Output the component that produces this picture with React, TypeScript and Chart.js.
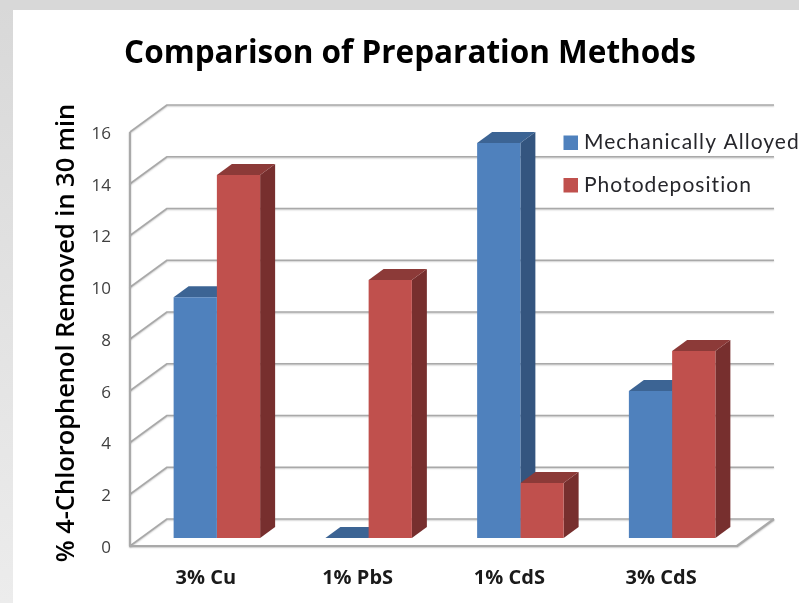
import React, { useEffect, useRef } from "react";
import { Chart, registerables } from "chart.js";

Chart.register(...registerables);

const titleText = "Comparison of Preparation Methods";
const yAxisTitle = "% 4-Chlorophenol Removed in 30 min";
const categories = ["3% Cu", "1% PbS", "1% CdS", "3% CdS"];
const mechanicallyAlloyed = [9.3, 0, 15.27, 5.68];
const photodeposition = [14.03, 9.97, 2.13, 7.23];

const FONT = "'Open Sans', sans-serif";
const LEGEND_FONT = "Lato, sans-serif";
// Oblique depth of the chart "box" and of the bars (pixels)
const wallDX = 37, wallDY = 27;
const barShiftX = 11, barShiftY = 8;
const barDX = 15, barDY = 11;
const GRID = "#a9a9a9";

const faces: Record<string, { top: string; side: string }> = {
  "#4f81bd": { top: "#3c6494", side: "#34557f" },
  "#c0504d": { top: "#8c3a38", side: "#772f2e" },
};

const box3d = {
  id: "box3d",
  beforeDraw(chart: any) {
    const { ctx, width, height } = chart;
    ctx.save();
    ctx.fillStyle = "#ffffff";
    ctx.fillRect(0, 0, width, height);
    ctx.fillStyle = "#d8d8d8";
    ctx.fillRect(0, 0, width, 10);
    const g = ctx.createLinearGradient(0, 0, 0, height);
    g.addColorStop(0, "#d8d8d8");
    g.addColorStop(1, "#ececec");
    ctx.fillStyle = g;
    ctx.fillRect(0, 10, 13, height - 10);
    ctx.restore();
  },
  beforeDatasetsDraw(chart: any) {
    const { ctx, scales, chartArea } = chart;
    const y = scales.y;
    ctx.save();
    ctx.strokeStyle = GRID;
    ctx.lineWidth = 1.6;
    ctx.lineJoin = "round";
    ctx.shadowColor = "rgba(0,0,0,0.2)";
    ctx.shadowOffsetY = 1;
    ctx.shadowBlur = 1.5;
    // back wall and side wall grid
    y.ticks.forEach((t: any) => {
      const py = y.getPixelForValue(t.value);
      ctx.beginPath();
      ctx.moveTo(chartArea.left, py);
      ctx.lineTo(chartArea.left + wallDX, py - wallDY);
      ctx.lineTo(chartArea.right + wallDX, py - wallDY);
      ctx.stroke();
    });
    // floor right edge + front edges
    const base = y.getPixelForValue(0);
    ctx.lineWidth = 2.2;
    ctx.beginPath();
    ctx.moveTo(chartArea.left, y.getPixelForValue(16));
    ctx.lineTo(chartArea.left, base);
    ctx.lineTo(chartArea.right, base);
    ctx.lineTo(chartArea.right + wallDX, base - wallDY);
    ctx.stroke();
    ctx.restore();

    // bars sit inside the box: shift the whole dataset drawing
    ctx.save();
    ctx.translate(barShiftX, -barShiftY);
    chart.data.datasets.forEach((ds: any, i: number) => {
      const f = faces[ds.backgroundColor];
      chart.getDatasetMeta(i).data.forEach((bar: any) => {
        const p = bar.getProps(["x", "y", "base", "width"], true);
        const l = p.x - p.width / 2;
        const r = p.x + p.width / 2;
        ctx.fillStyle = f.side;
        ctx.beginPath();
        ctx.moveTo(r, p.y);
        ctx.lineTo(r + barDX, p.y - barDY);
        ctx.lineTo(r + barDX, p.base - barDY);
        ctx.lineTo(r, p.base);
        ctx.closePath();
        ctx.fill();
        ctx.fillStyle = f.top;
        ctx.beginPath();
        ctx.moveTo(l, p.y);
        ctx.lineTo(l + barDX, p.y - barDY);
        ctx.lineTo(r + barDX, p.y - barDY);
        ctx.lineTo(r, p.y);
        ctx.closePath();
        ctx.fill();
      });
    });
  },
  afterDatasetsDraw(chart: any) {
    const { ctx } = chart;
    ctx.restore();

    // legend
    ctx.save();
    ctx.textBaseline = "middle";
    ctx.textAlign = "left";
    ctx.font = `400 21px ${LEGEND_FONT}`;
    (ctx as any).letterSpacing = "1.05px";
    const rows = [142.5, 185];
    chart.data.datasets.forEach((ds: any, i: number) => {
      ctx.fillStyle = ds.backgroundColor;
      ctx.fillRect(563.5, rows[i] - 7, 14.5, 14.5);
      ctx.fillStyle = "#26262b";
      ctx.fillText(ds.label, 584, rows[i]);
    });
    (ctx as any).letterSpacing = "0px";

    // y axis title
    ctx.translate(67, 333);
    ctx.rotate(-Math.PI / 2);
    ctx.textAlign = "center";
    ctx.fillStyle = "#000000";
    ctx.font = `600 25.4px ${FONT}`;
    ctx.fillText(yAxisTitle, 0, 0);
    ctx.restore();
  },
};

export default function App() {
  const ref = useRef<HTMLCanvasElement>(null);
  useEffect(() => {
    document.body.style.margin = "0";
    const chart = new Chart(ref.current!, {
      type: "bar",
      data: {
        labels: categories,
        datasets: [
          { label: "Mechanically Alloyed", data: mechanicallyAlloyed, backgroundColor: "#4f81bd", borderWidth: 0 },
          { label: "Photodeposition", data: photodeposition, backgroundColor: "#c0504d", borderWidth: 0 },
        ],
      },
      options: {
        responsive: false,
        animation: false,
        layout: { padding: { left: 83, right: 62, top: 0, bottom: 0 } },
        datasets: { bar: { categoryPercentage: 0.57, barPercentage: 1 } },
        plugins: {
          legend: { display: false },
          tooltip: { enabled: false },
          title: {
            display: true,
            text: titleText,
            color: "#000000",
            font: { family: FONT, size: 31.5, weight: "700", lineHeight: 1.2 },
            padding: { top: 35, bottom: 59.2 },
          },
        },
        scales: {
          x: {
            grid: { display: false, drawTicks: false },
            border: { display: false },
            afterFit: (s: any) => { s.height = 57; },
            ticks: {
              color: "#1a1a1a",
              padding: 20,
              maxRotation: 0,
              font: { family: FONT, size: 20, weight: "700" },
            },
          },
          y: {
            min: 0,
            max: 16,
            grid: { display: false, drawTicks: false },
            border: { display: false },
            afterFit: (s: any) => { s.width = 47; },
            ticks: {
              stepSize: 2,
              color: "#404040",
              padding: 19,
              labelOffset: 2,
              font: { family: FONT, size: 17 },
            },
          },
        },
      },
      plugins: [box3d],
    } as any);
    return () => chart.destroy();
  }, []);
  return <canvas ref={ref} width={799} height={603} style={{ display: "block" }} />;
}
